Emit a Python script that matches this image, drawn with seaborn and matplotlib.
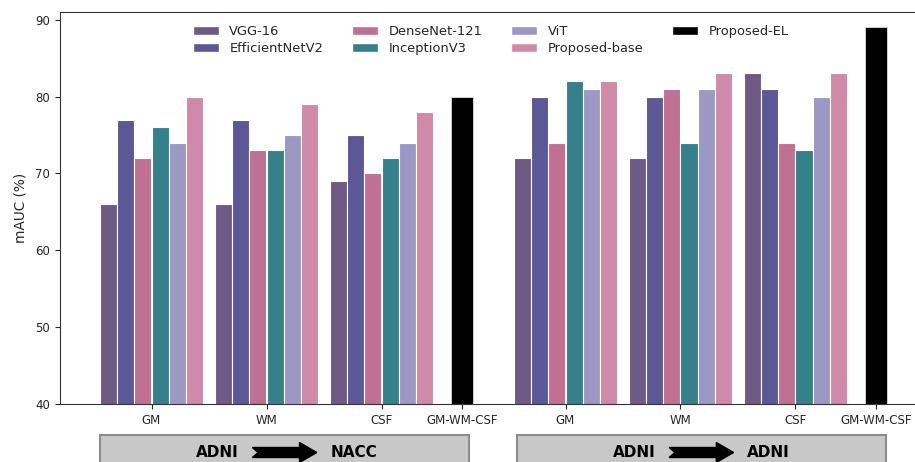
import numpy as np
import pandas as pd
import seaborn as sns
import matplotlib
matplotlib.use("Agg")
import matplotlib.pyplot as plt
from matplotlib.patches import Rectangle, Polygon, Patch
import matplotlib.transforms as mtransforms

# ---------------- data ----------------
models = ["VGG-16", "EfficientNetV2", "DenseNet-121", "InceptionV3", "ViT", "Proposed-base"]
model_colors = ["#6d5a85", "#5c5795", "#c07092", "#35808a", "#9d97c4", "#cf8aaa"]
el_label = "Proposed-EL"
el_color = "#000000"

tissues = ["GM", "WM", "CSF"]
combo_label = "GM-WM-CSF"
settings = [("ADNI", "NACC"), ("ADNI", "ADNI")]

# mAUC (%) per model, for GM, WM, CSF
nacc_vgg = [66, 66, 69]
nacc_eff = [77, 77, 75]
nacc_dense = [72, 73, 70]
nacc_incep = [76, 73, 72]
nacc_vit = [74, 75, 74]
nacc_base = [80, 79, 78]

adni_vgg = [72, 72, 83]
adni_eff = [80, 80, 81]
adni_dense = [74, 81, 74]
adni_incep = [82, 74, 73]
adni_vit = [81, 81, 80]
adni_base = [82, 83, 83]

el_values = [80, 89]  # Proposed-EL on GM-WM-CSF (ADNI->NACC, ADNI->ADNI)

nacc_vals = [nacc_vgg, nacc_eff, nacc_dense, nacc_incep, nacc_vit, nacc_base]
adni_vals = [adni_vgg, adni_eff, adni_dense, adni_incep, adni_vit, adni_base]

# ---------------- layout ----------------
group_pos = [[0.0, 1.0, 2.0], [3.6, 4.6, 5.6]]
el_pos = [2.7, 6.3]
bar_step = 0.15
el_width = 0.19

rows = []
for s, vals in enumerate([nacc_vals, adni_vals]):
    for i, m in enumerate(models):
        for t, tissue in enumerate(tissues):
            x = round(group_pos[s][t] + (i - 2.5) * bar_step, 4)
            rows.append({"x": x, "value": vals[i][t], "model": m})
df = pd.DataFrame(rows)
df_el = pd.DataFrame({"x": el_pos, "value": el_values, "model": el_label})

sns.set_style("ticks")
plt.rcParams["font.family"] = ["DejaVu Sans"]

fig = plt.figure(figsize=(9.15, 4.62), dpi=100)
axw = 900  # axes width in px (extends beyond the canvas, right spine cut off)
ax = fig.add_axes([60 / 915, 58 / 462, axw / 915, 392 / 462])

sns.barplot(data=df, x="x", y="value", hue="model", hue_order=models,
            palette=model_colors, native_scale=True, dodge=False, width=1.0,
            saturation=1, errorbar=None, edgecolor="white", linewidth=0.8,
            orient="x", legend=False, ax=ax)
sns.barplot(data=df_el, x="x", y="value", color=el_color, native_scale=True,
            width=el_width / (el_pos[1] - el_pos[0]), saturation=1,
            errorbar=None, edgecolor="#dddddd", linewidth=0.6, orient="x", ax=ax)

xl = (60 - 151.5) / 115
ax.set_xlim(xl, xl + axw / 115)
ax.set_ylim(40, 91)
ax.set_yticks([40, 50, 60, 70, 80, 90])

ticks = group_pos[0] + [el_pos[0]] + group_pos[1] + [el_pos[1]]
labels = tissues + [combo_label] + tissues + [combo_label]
ax.set_xticks(ticks)
ax.set_xticklabels(labels)
ax.tick_params(axis="both", labelsize=8.5)
ax.set_xlabel("")
ax.set_ylabel("mAUC (%)", fontsize=9.8, labelpad=6)
for sp in ["left", "top", "bottom"]:
    ax.spines[sp].set_visible(True)
    ax.spines[sp].set_color("#333333")
ax.spines["right"].set_visible(False)

# legend
handles = [Patch(facecolor=c, edgecolor="white") for c in model_colors] + \
          [Patch(facecolor=el_color, edgecolor="white")]
leg_labels = models + [el_label]
ax.legend(handles, leg_labels, ncol=4, frameon=False, fontsize=9.4,
          loc="upper left", bbox_to_anchor=(192.7 / 915, 1 - 25 / 462),
          bbox_transform=fig.transFigure, handlelength=2.0, labelspacing=0.3,
          columnspacing=2.2, borderpad=0, borderaxespad=0, handletextpad=0.8)

# setting boxes below the axis
trans = mtransforms.blended_transform_factory(ax.transData, ax.transAxes)
box_spans = [(-0.448, 2.762), (3.180, 6.383)]
box_top = (404 - 435) / 392
box_bottom = -0.2
yc = (404 - 452.5) / 392
for (x0, x1), (src, tgt) in zip(box_spans, settings):
    ax.add_patch(Rectangle((x0, box_bottom), x1 - x0, box_top - box_bottom,
                           transform=trans, facecolor="#c8c8c8",
                           edgecolor="#8c8c8c", linewidth=1.5, clip_on=False))
    cx = (x0 + x1) / 2
    a0, a1 = cx - 0.28, cx + 0.28
    bh, hh = 5 / 392, 10 / 392
    hl, notch = 0.15, 0.05
    pts = [(a0, yc + bh), (a0 + notch, yc), (a0, yc - bh), (a1 - hl, yc - bh),
           (a1 - hl, yc - hh), (a1, yc), (a1 - hl, yc + hh), (a1 - hl, yc + bh)]
    ax.add_patch(Polygon(pts, closed=True, transform=trans, facecolor="black",
                         edgecolor="black", clip_on=False))
    ax.text(a0 - 0.12, yc, src, transform=trans, ha="right", va="center",
            fontsize=11, fontweight="bold", color="black")
    ax.text(a1 + 0.12, yc, tgt, transform=trans, ha="left", va="center",
            fontsize=11, fontweight="bold", color="black")

fig.savefig("out.png", dpi=100)
